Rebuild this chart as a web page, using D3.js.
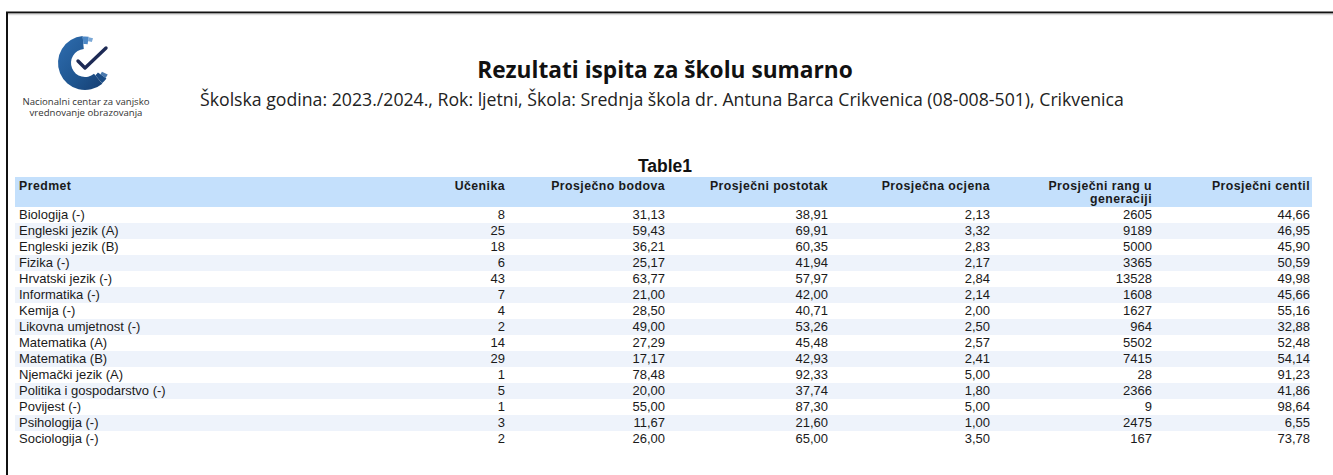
<!DOCTYPE html>
<html><head><meta charset="utf-8">
<script src="https://cdn.jsdelivr.net/npm/d3@7"></script>
<style>
html,body{margin:0;padding:0;background:#fff;overflow:hidden;}
svg{display:block;}
</style></head>
<body>
<svg id="c" width="1333" height="475"></svg>
<script>
const title = "Rezultati ispita za školu sumarno";
const subtitle = "Školska godina: 2023./2024., Rok: ljetni, Škola: Srednja škola dr. Antuna Barca Crikvenica (08-008-501), Crikvenica";
const tableTitle = "Table1";
const logoLines = ["Nacionalni centar za vanjsko", "vrednovanje obrazovanja"];
const headers = [["Predmet"], ["Učenika"], ["Prosječno bodova"], ["Prosječni postotak"], ["Prosječna ocjena"], ["Prosječni rang u", "generaciji"], ["Prosječni centil"]];
const subjects = ["Biologija (-)", "Engleski jezik (A)", "Engleski jezik (B)", "Fizika (-)", "Hrvatski jezik (-)", "Informatika (-)", "Kemija (-)", "Likovna umjetnost (-)", "Matematika (A)", "Matematika (B)", "Njemački jezik (A)", "Politika i gospodarstvo (-)", "Povijest (-)", "Psihologija (-)", "Sociologija (-)"];
const ucenika = [8, 25, 18, 6, 43, 7, 4, 2, 14, 29, 1, 5, 1, 3, 2];
const bodova = [31.13, 59.43, 36.21, 25.17, 63.77, 21.00, 28.50, 49.00, 27.29, 17.17, 78.48, 20.00, 55.00, 11.67, 26.00];
const postotak = [38.91, 69.91, 60.35, 41.94, 57.97, 42.00, 40.71, 53.26, 45.48, 42.93, 92.33, 37.74, 87.30, 21.60, 65.00];
const ocjena = [2.13, 3.32, 2.83, 2.17, 2.84, 2.14, 2.00, 2.50, 2.57, 2.41, 5.00, 1.80, 5.00, 1.00, 3.50];
const rang = [2605, 9189, 5000, 3365, 13528, 1608, 1627, 964, 5502, 7415, 28, 2366, 9, 2475, 167];
const centil = [44.66, 46.95, 45.90, 50.59, 49.98, 45.66, 55.16, 32.88, 52.48, 54.14, 91.23, 41.86, 98.64, 6.55, 73.78];

const svg = d3.select("#c");
const dec = v => d3.format(".2f")(v).replace(".", ",");
const intf = v => String(v);
const deg = a => a * Math.PI / 180;

// page frame
svg.append("rect").attr("x", 0).attr("y", 0).attr("width", 1333).attr("height", 475).attr("fill", "#fff");
svg.append("line").attr("x1", 6).attr("x2", 1333).attr("y1", 12.5).attr("y2", 12.5).attr("stroke", "#111").attr("stroke-width", 2);
svg.append("line").attr("x1", 8).attr("x2", 1333).attr("y1", 14.5).attr("y2", 14.5).attr("stroke", "#ddd").attr("stroke-width", 1.5);
svg.append("line").attr("x1", 7).attr("x2", 7).attr("y1", 12).attr("y2", 475).attr("stroke", "#111").attr("stroke-width", 2);

// logo
const defs = svg.append("defs");
const grad = defs.append("linearGradient").attr("id", "lgr").attr("x1", "0").attr("y1", "0").attr("x2", "1").attr("y2", "1");
grad.append("stop").attr("offset", "0").attr("stop-color", "#2e6db0");
grad.append("stop").attr("offset", "0.6").attr("stop-color", "#1f558f");
grad.append("stop").attr("offset", "1").attr("stop-color", "#163f73");
const lg = svg.append("g").attr("transform", "translate(85,63)");
const arc = d3.arc();
lg.append("path").attr("d", arc({innerRadius: 14, outerRadius: 27, startAngle: deg(140), endAngle: deg(355)})).attr("fill", "url(#lgr)");
lg.append("path").attr("d", arc({innerRadius: 16, outerRadius: 26.5, startAngle: deg(126), endAngle: deg(140)})).attr("fill", "#1b4c85");
lg.append("path").attr("d", arc({innerRadius: 19, outerRadius: 25.5, startAngle: deg(117), endAngle: deg(126)})).attr("fill", "#2a62a0").attr("opacity", 0.85);
lg.append("path").attr("d", arc({innerRadius: 19, outerRadius: 26.5, startAngle: deg(355), endAngle: deg(368)})).attr("fill", "#3a7bc0").attr("opacity", 0.9);
lg.append("path").attr("d", arc({innerRadius: 22, outerRadius: 26, startAngle: deg(368), endAngle: deg(378)})).attr("fill", "#5a92cc").attr("opacity", 0.8);
lg.append("path").attr("d", "M-7,-2 L0,5 L21,-15").attr("fill", "none").attr("stroke", "#1d2a55").attr("stroke-width", 3.4).attr("stroke-linecap", "round").attr("stroke-linejoin", "round");
svg.append("g").selectAll("text").data(logoLines).join("text")
  .attr("x", 86).attr("y", (d, i) => 105 + i * 11).attr("text-anchor", "middle")
  .attr("font-family", "Open Sans, sans-serif").attr("font-size", 9.6).attr("fill", "#333").text(d => d);

// titles
svg.append("text").attr("x", 665).attr("y", 78).attr("text-anchor", "middle")
  .attr("font-family", "Open Sans, sans-serif").attr("font-weight", "bold").attr("font-size", 22.7).attr("fill", "#111").text(title);
svg.append("text").attr("x", 200).attr("y", 106)
  .attr("font-family", "Open Sans, sans-serif").attr("font-size", 17.7).attr("fill", "#222").text(subtitle);
svg.append("text").attr("x", 665).attr("y", 172).attr("text-anchor", "middle")
  .attr("font-family", "Liberation Sans, Arial, sans-serif").attr("font-weight", "bold").attr("font-size", 17.5).attr("fill", "#111").text(tableTitle);

// table scales
const rowY = d3.scaleBand().domain(subjects).range([207, 207 + subjects.length * 16]);
const colKeys = d3.range(headers.length);
const colX = d3.scaleOrdinal().domain(colKeys).range([19, 505, 665, 828, 990, 1152, 1310]);
const left = 15, right = 1312;

// header band
svg.append("rect").attr("x", left).attr("y", 177).attr("width", right - left).attr("height", 30).attr("fill", "#c4e0fc");
const hg = svg.append("g").attr("font-family", "Liberation Sans, Arial, sans-serif").attr("font-weight", "bold").attr("font-size", 12.3).attr("letter-spacing", 0.45).attr("fill", "#1a1a1a");
headers.forEach((h, ci) => {
  const t = hg.append("text").attr("x", colX(ci)).attr("y", 190).attr("text-anchor", ci === 0 ? "start" : "end");
  h.forEach((line, li) => t.append("tspan").attr("x", colX(ci)).attr("dy", li === 0 ? 0 : 13).text(line));
});

// rows
const rows = subjects.map((s, i) => [s, intf(ucenika[i]), dec(bodova[i]), dec(postotak[i]), dec(ocjena[i]), intf(rang[i]), dec(centil[i])]);
const rg = svg.append("g");
rg.selectAll("rect").data(subjects.filter((d, i) => i % 2 === 1)).join("rect")
  .attr("x", left).attr("y", d => rowY(d)).attr("width", 1310 - left).attr("height", rowY.bandwidth()).attr("fill", "#eef3fb");
const rowG = rg.selectAll("g.row").data(rows).join("g").attr("class", "row")
  .attr("transform", d => `translate(0,${rowY(d[0]) + 12})`);
rowG.selectAll("text").data(d => d).join("text")
  .attr("x", (d, ci) => colX(ci)).attr("text-anchor", (d, ci) => ci === 0 ? "start" : "end")
  .attr("font-family", "Liberation Sans, Arial, sans-serif").attr("font-size", 13).attr("fill", "#1a1a1a")
  .text(d => d);
</script>
</body></html>
